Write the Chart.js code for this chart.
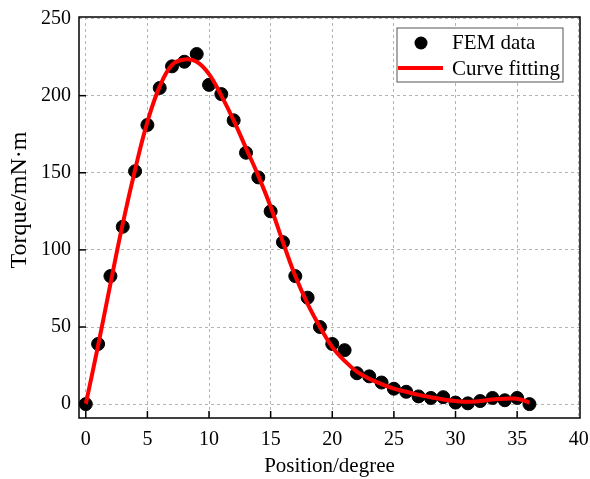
<!DOCTYPE html>
<html>
<head>
<meta charset="utf-8">
<script src="https://cdn.jsdelivr.net/npm/chart.js@4/dist/chart.umd.min.js"></script>
<style>
  html, body { margin: 0; padding: 0; background: #fff; }
  #wrap { width: 590px; height: 479px; }
</style>
</head>
<body>
<div id="wrap"><canvas id="torqueChart"></canvas></div>
<script>
// FEM data points (position in degrees, torque in mN·m)
const femPositions = [0, 1, 2, 3, 4, 5, 6, 7, 8, 9, 10, 11, 12, 13, 14, 15, 16, 17, 18,
  19, 20, 21, 22, 23, 24, 25, 26, 27, 28, 29, 30, 31, 32, 33, 34, 35, 36];
const femTorque = [0, 39, 83, 115, 151, 181, 205, 219, 222, 227, 207, 201, 184, 163, 147,
  125, 105, 83, 69, 50, 39, 35, 20, 18, 14, 10, 8, 5, 4, 4.5, 1, 0.5, 2, 4, 2.5, 4, 0];

// fitted curve read at each degree
const fitPositions = femPositions;
const fitTorque = [0, 38, 78, 117, 152, 183, 206, 220, 223.5, 222, 214, 200, 184, 166, 148,
  128, 105, 83, 65, 50, 37, 28, 21, 16.5, 13, 10, 8, 6, 4.5, 3, 2, 1.5, 2, 3, 3.5, 3.5, 1];

const xTicks = [0, 5, 10, 15, 20, 25, 30, 35, 40];
const yTicks = [0, 50, 100, 150, 200, 250];

const FONT = "'Liberation Serif', 'Times New Roman', serif";

// frame, inward tick marks, y title and the legend box
const framePlugin = {
  id: "frame",
  afterDraw(chart) {
    const { ctx, chartArea: a, scales } = chart;
    ctx.save();
    ctx.setLineDash([]);
    ctx.strokeStyle = "#000";
    ctx.lineWidth = 1.5;
    ctx.strokeRect(a.left, a.top, a.right - a.left, a.bottom - a.top);

    xTicks.forEach((v) => {
      const px = scales.x.getPixelForValue(v);
      if (px < a.left || px > a.right - 3) return;
      ctx.beginPath();
      ctx.moveTo(px, a.bottom);
      ctx.lineTo(px, a.bottom - 7);
      ctx.stroke();
    });
    yTicks.forEach((v) => {
      const py = scales.y.getPixelForValue(v);
      if (py < a.top + 3) return;
      ctx.beginPath();
      ctx.moveTo(a.left, py);
      ctx.lineTo(a.left + 7, py);
      ctx.stroke();
    });

    // y axis title (sits a bit above the middle in the original)
    ctx.save();
    ctx.translate(20, 200);
    ctx.rotate(-Math.PI / 2);
    ctx.fillStyle = "#000";
    ctx.font = "24px " + FONT;
    ctx.textAlign = "center";
    ctx.textBaseline = "middle";
    ctx.fillText("Torque/mN·m", 0, 0);
    ctx.restore();

    // legend
    const lx = 397, ly = 28, lw = 166, lh = 54;
    ctx.fillStyle = "#fff";
    ctx.fillRect(lx, ly, lw, lh);
    ctx.strokeStyle = "#555";
    ctx.lineWidth = 1;
    ctx.strokeRect(lx, ly, lw, lh);

    ctx.fillStyle = "#000";
    ctx.beginPath();
    ctx.arc(421, 43, 6.5, 0, Math.PI * 2);
    ctx.fill();

    ctx.strokeStyle = "#ff0000";
    ctx.lineWidth = 4;
    ctx.beginPath();
    ctx.moveTo(398, 68);
    ctx.lineTo(443, 68);
    ctx.stroke();

    ctx.fillStyle = "#000";
    ctx.font = "21px " + FONT;
    ctx.textBaseline = "middle";
    ctx.textAlign = "left";
    ctx.fillText("FEM data", 452, 43);
    ctx.fillText("Curve fitting", 452, 69);
    ctx.restore();
  },
};

const gridStyle = {
  color: "#b4b4b4",
  lineWidth: 1,
  drawTicks: false,
};

new Chart(document.getElementById("torqueChart"), {
  type: "scatter",
  data: {
    datasets: [
      {
        label: "Curve fitting",
        type: "line",
        data: fitPositions.map((x, i) => ({ x, y: fitTorque[i] })),
        borderColor: "#ff0000",
        borderWidth: 4,
        pointRadius: 0,
        tension: 0.4,
        fill: false,
        order: 1,
      },
      {
        label: "FEM data",
        data: femPositions.map((x, i) => ({ x, y: femTorque[i] })),
        backgroundColor: "#000",
        borderColor: "#000",
        pointRadius: 6.5,
        pointHoverRadius: 6.5,
        order: 2,
      },
    ],
  },
  options: {
    responsive: true,
    maintainAspectRatio: false,
    animation: false,
    layout: { padding: { top: 17, right: 10, left: 0, bottom: 0 } },
    plugins: {
      legend: { display: false },
      tooltip: { enabled: false },
    },
    scales: {
      x: {
        type: "linear",
        min: -0.55,
        max: 40.1,
        afterBuildTicks: (scale) => {
          scale.ticks = xTicks.map((v) => ({ value: v }));
        },
        afterFit: (scale) => {
          scale.height = 61;
          scale.paddingRight = 0;
          scale.paddingLeft = 0;
        },
        border: { display: false, dash: [3, 3] },
        grid: gridStyle,
        ticks: {
          color: "#000",
          padding: 10,
          maxRotation: 0,
          font: { size: 20, family: FONT },
        },
        title: {
          display: true,
          text: "Position/degree",
          color: "#000",
          padding: { top: 0, bottom: 0 },
          font: { size: 21, family: FONT },
        },
      },
      y: {
        type: "linear",
        min: -9,
        max: 251,
        afterBuildTicks: (scale) => {
          scale.ticks = yTicks.map((v) => ({ value: v }));
        },
        afterFit: (scale) => {
          scale.width = 79;
          scale.paddingTop = 0;
          scale.paddingBottom = 0;
        },
        border: { display: false, dash: [3, 3] },
        grid: gridStyle,
        ticks: {
          color: "#000",
          padding: 8,
          font: { size: 20, family: FONT },
        },
      },
    },
  },
  plugins: [framePlugin],
});
</script>
</body>
</html>
